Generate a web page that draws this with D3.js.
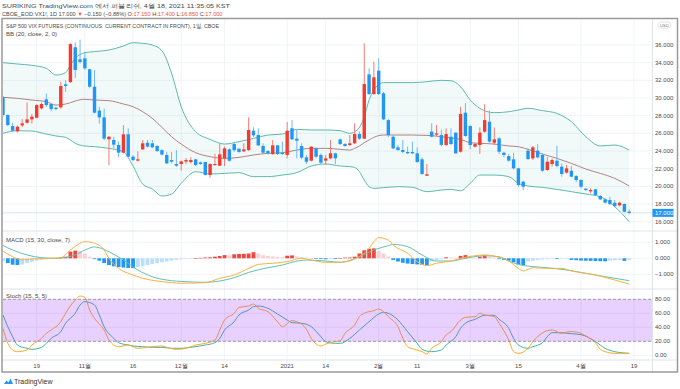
<!DOCTYPE html>
<html>
<head>
<meta charset="utf-8">
<script src="https://cdn.jsdelivr.net/npm/d3@7"></script>
<style>
  body { margin: 0; background: #fff; }
  svg { display: block; font-family: "Liberation Sans", "DejaVu Sans", sans-serif; }
</style>
</head>
<body>
<svg id="chart" width="680" height="389"></svg>
<script>
// ---- data ----
// bars run from index -7 (Oct 8 2020) to 123 (Apr 16 2021), index 0 = Oct 19
const firstBar = -7;
const opens = [30.08,28.08,26.83,26.23,26.90,27.20,27.58, 27.77,28.83,29.85,29.32,28.90,28.94,31.55,31.81,35.74,34.38,34.49,33.25,31.28,28.57,27.81,25.32,25.25,24.68,23.81,25.89,23.36,22.91,24.19,24.94,24.87,24.57,24.10,23.55,22.98,22.53,22.53,22.80,22.75,23.06,22.72,22.75,21.28,22.42,22.34,23.17,
  24.19,24.79,24.26,23.96,24.11,26.30,25.81,24.57,24.00,23.66,24.64,23.81,23.55,26.57,25.40,24.57,23.28,22.91,24.30,23.55,22.91,23.17,23.74,25.32,24.79,24.68,24.87,25.92,25.40,32.68,30.45,33.10,30.53,27.50,25.62,24.42,24.11,23.89,23.89,23.74,23.06,21.20,
  26.19,25.85,25.81,24.68,25.62,26.08,23.92,28.34,26.83,24.49,24.68,26.19,27.32,24.94,25.43,23.81,23.43,23.06,22.04,20.53,24.04,23.17,24.04,23.55,21.85,22.53,22.91,22.23,21.55,21.77,21.17,20.72,19.74,19.43,19.66,18.91,18.53,18.45,18.15,17.85,18.00,17.15];
const highs = [30.20,28.15,27.20,26.90,27.60,29.50,28.20, 29.30,29.50,30.50,29.40,29.00,31.85,32.00,36.20,36.30,36.60,35.25,33.30,33.17,29.00,28.80,25.70,25.62,25.06,26.94,26.57,23.55,23.96,25.25,25.25,25.25,24.70,24.20,23.90,23.90,24.10,22.90,23.20,23.30,23.10,22.80,22.80,22.60,23.70,24.80,24.50,
  24.30,25.06,24.30,24.90,27.81,26.68,26.57,24.87,24.10,25.25,24.70,25.06,27.30,27.50,26.40,24.87,23.55,24.57,24.40,23.74,23.55,25.25,23.81,25.40,24.90,25.81,27.13,26.20,36.19,33.36,34.10,34.49,30.70,27.60,25.81,24.70,25.25,24.49,25.06,24.42,23.28,22.53,
  27.13,26.94,26.40,26.57,26.57,26.10,29.00,29.40,26.94,24.90,26.68,29.30,28.57,26.68,25.55,23.92,23.66,23.81,22.10,20.64,24.30,24.57,24.79,23.74,23.36,23.17,24.60,22.60,22.42,22.30,21.28,20.79,19.77,19.77,19.70,19.02,18.64,18.83,18.45,18.26,18.08,17.40];
const lows = [27.90,26.80,26.20,26.10,26.70,27.10,27.10, 27.70,28.70,29.00,28.50,28.60,28.80,30.70,31.70,32.25,33.90,33.17,31.10,28.26,27.10,25.25,22.40,24.30,23.30,23.74,23.28,22.87,22.80,24.10,24.40,24.30,23.90,23.50,22.53,22.60,22.20,21.80,22.50,22.60,22.30,22.45,21.25,21.00,22.30,22.30,22.30,
  22.80,23.90,23.80,23.90,24.00,25.60,24.57,23.66,23.60,23.55,23.55,23.55,23.17,25.25,23.17,23.06,22.53,22.80,23.17,22.53,22.42,23.06,22.53,24.70,24.50,24.57,24.80,25.25,25.32,30.34,30.34,30.34,27.50,25.60,24.19,24.04,23.74,23.66,23.66,22.68,21.32,21.17,
  25.55,25.70,24.57,24.57,24.68,23.66,23.81,25.62,24.19,24.40,23.66,26.08,24.94,24.68,23.66,23.28,22.79,21.92,19.96,19.58,23.00,22.98,23.17,21.66,21.77,22.23,22.15,21.10,21.45,21.02,20.45,19.77,19.50,19.20,19.00,18.45,18.08,17.89,17.62,17.74,17.06,16.85];
const closes = [28.08,26.94,26.30,26.75,27.13,27.58,27.89, 29.20,29.32,29.20,28.75,28.75,31.36,31.36,36.10,33.17,34.08,33.36,31.28,28.34,27.81,25.40,25.62,24.72,23.81,25.89,23.36,22.98,23.06,24.87,24.49,24.42,24.00,23.60,22.60,22.80,22.34,22.83,22.98,22.98,22.42,22.53,21.28,22.53,22.53,23.62,24.30,
  22.90,24.10,23.89,24.19,26.38,25.77,24.64,23.81,23.74,24.64,23.66,23.66,26.30,25.32,25.17,23.25,22.79,24.49,23.36,22.68,23.17,23.74,23.17,24.79,24.57,24.87,25.92,25.40,31.58,30.45,32.34,30.45,27.58,25.81,24.30,24.11,23.89,23.74,23.74,22.75,21.40,21.36,
  25.62,26.00,24.70,25.92,24.79,23.74,28.19,25.70,24.68,24.79,26.08,27.50,25.06,25.32,23.92,23.55,22.91,22.04,20.15,19.96,23.09,24.42,23.28,21.77,22.79,22.98,22.30,21.40,22.04,21.10,20.72,19.96,19.58,19.58,19.02,18.53,18.15,18.00,17.77,18.15,17.13,17.00];

// Bollinger bands (20, close, 2), read at these bar indexes
const bbIdx   = [-7,-4,-1,2,4,6,7,8,10,12,15,18,20,22,24,26,28,30,33,36,39,42,45,48,51,54,57,60,63,65,66,67,68,69,70,72,75,78,81,84,86,88,90,92,95,98,100,102,105,108,111,114,117,120,123];
const bbUpper = [34.0,33.85,33.7,33.36,32.6,32.87,33.74,34.49,35.13,35.25,35.43,35.89,36.26,36.19,36.0,35.36,32.79,29.02,26.19,25.32,24.79,25.06,25.43,25.81,25.92,26.45,26.38,26.38,26.3,26.0,26.19,26.68,27.89,29.77,30.9,31.74,31.74,31.74,31.85,32.0,31.96,31.28,29.77,28.83,28.34,28.45,28.64,28.83,28.57,28.26,27.32,25.62,24.57,24.68,24.11];
const bbMid   = [30.08,29.96,29.77,29.58,29.2,29.32,29.47,29.66,29.85,29.77,29.7,29.32,29.02,28.45,27.7,26.68,25.62,24.79,23.81,23.36,23.17,23.28,23.55,23.74,23.81,24.11,24.3,24.3,24.19,24.11,24.3,24.57,24.94,25.25,25.55,25.81,25.81,25.81,25.77,25.62,25.47,25.32,24.94,24.87,24.79,24.57,24.49,24.19,23.66,23.17,22.6,21.96,21.47,20.91,20.04];
const bbLower = [26.0,26.3,26.26,25.92,25.7,25.55,25.25,24.87,24.57,24.49,24.3,23.92,22.3,20.26,19.7,18.91,19.13,20.34,21.66,21.4,21.47,21.55,21.1,21.1,21.28,21.55,22.3,22.53,22.3,22.23,22.15,21.66,20.72,19.96,19.77,19.85,19.96,19.89,19.4,19.58,19.66,19.5,20.34,21.28,21.28,21.1,20.34,20.04,19.89,19.66,19.4,19.13,18.83,17.7,16.0];

// MACD (15, 30, close, 7)
const macdIdx  = [-7,-5,-3,-1,3,5,7,9,10,12,14,15,17,20,22,25,28,30,35,38,41,44,46,49,52,55,57,60,63,67,69,70,71,73,74,77,79,81,83,86,88,91,93,96,98,100,101,103,106,109,111,116,120,123];
const macdVals = [0.45,0.1,-0.1,-0.04,0,0.04,0.52,0.94,1.04,0.94,0.52,0,-0.63,-1.04,-1.25,-1.42,-1.52,-1.56,-1.52,-1.25,-1.04,-0.63,-0.38,-0.31,-0.21,0,-0.11,-0.25,-0.25,0.1,0.62,1.04,1.29,1.14,0.83,0.31,-0.21,-0.46,-0.31,-0.17,0,0.16,0.21,0.06,-0.17,-0.63,-0.79,-0.59,-0.63,-0.63,-0.79,-1.04,-1.36,-1.6];
const signalIdx  = [-7,-5,-2,1,4,8,10,12,13,15,18,21,24,27,31,35,38,41,44,48,51,53,56,60,63,67,70,73,74,77,80,83,86,89,93,96,98,100,103,106,110,114,118,123];
const signalVals = [0.8,0.52,0.21,0.04,0,0.21,0.52,0.71,0.66,0.41,-0.11,-0.73,-1.15,-1.36,-1.46,-1.5,-1.42,-1.21,-0.88,-0.59,-0.42,-0.25,-0.11,-0.17,-0.25,0.1,0.52,0.79,0.87,0.73,0.21,-0.17,-0.17,0,0.16,0.1,-0.17,-0.38,-0.52,-0.59,-0.73,-0.94,-1.15,-1.4];
// histogram, one value per bar from index -7
const macdHist = [-0.17,-0.3,-0.4,-0.42,-0.38,-0.3,-0.22,
  -0.15,-0.1,-0.06,-0.03,-0.01,
  0.06,0.1,0.42,0.48,0.45,0.3,0.1,
  -0.05,-0.15,-0.3,-0.42,-0.5,-0.55,-0.58,-0.6,-0.61,
  -0.55,-0.5,-0.42,-0.36,-0.3,-0.25,-0.2,-0.15,-0.1,-0.06,-0.03,-0.01,
  0.01,0.03,0.05,0.06,
  0.1,0.14,0.2,0.18,0.25,0.27,0.28,0.3,0.38,
  0.3,0.2,0.15,0.12,0.08,0.06,
  0.16,0.18,0.12,0.07,0.04,0.02,
  -0.02,-0.05,-0.06,-0.04,-0.05,
  0.02,0.04,0.05,0.1,0.3,0.5,0.6,0.62,0.45,0.3,0.12,
  -0.1,-0.2,-0.28,-0.33,-0.36,-0.38,-0.4,-0.42,
  -0.2,-0.12,-0.06,0.06,0.05,0.04,0.15,0.2,
  0.05,0.03,0.1,0.18,0.1,0.05,
  -0.05,-0.1,-0.15,-0.25,-0.38,-0.42,
  -0.2,-0.15,-0.1,-0.08,-0.06,-0.04,-0.05,-0.03,-0.02,
  -0.1,-0.12,-0.14,-0.15,-0.16,-0.17,-0.18,-0.19,-0.15,-0.12,-0.1,-0.16,-0.1];

// Stoch (15, 5, 5)
const stochKIdx = [-7,-6,-5,-4,-2,-1,1,2,3,5,6,8,9,10,11,12,14,15,17,19,20,21,23,26,27,29,31,33,35,37,38,39,41,42,44,45,46,48,50,51,53,54,56,57,59,60,62,63,64,66,67,68,70,71,72,73,75,76,77,79,80,81,82,84,85,86,88,89,91,92,93,95,96,98,99,100,102,103,104,106,107,109,110,111,113,114,116,117,118,120,121,123];
const stochK    = [38.5,17.1,7.6,5.2,7.6,14.7,24.2,31.4,36.1,48,60,79,84.7,82.8,64.7,52.8,36.1,21.9,12.3,14.7,12.3,10,11.4,13.3,11.4,8.5,10,14.7,17.1,21.9,36.1,50.4,60,68.5,70.4,73.3,67.1,62.3,48,40.9,49.5,48,37.1,24.2,13.3,16.1,19.5,20.5,31.4,43.3,55.2,60,63.8,66.1,62.3,55.2,40.9,24.2,12.3,7.6,5.2,1.9,10,19.5,29,33.8,50.4,54.2,55.2,60,57.6,55.2,45.7,21.9,5.2,2.8,10,19.5,26.6,35.2,36.1,31.4,33.3,33.8,31.4,27.6,18,8.5,5.2,2.8,2.8,2.8];
const stochDIdx = [-7,-6,-5,-4,-2,-1,1,2,3,5,6,8,9,10,12,13,14,16,17,19,20,22,24,26,28,30,32,35,37,38,39,41,42,44,45,46,48,50,52,53,55,57,59,60,62,63,65,67,69,71,72,73,75,77,79,80,82,84,85,87,88,89,91,93,95,96,98,99,100,102,103,105,106,107,109,110,113,116,118,120,123];
const stochD    = [57.6,40.9,26.6,14.7,10,8.5,11.4,17.1,24.2,33.8,45.7,60,71.9,76.6,71.9,57.6,40.9,24.2,18,14.7,13.3,12.3,11.4,11.4,10,10,11.4,14.7,18,24.2,36.1,48,57.6,64.7,69.5,70.4,67.1,59,50.4,46.6,45.7,40.9,26.6,19.5,17.1,17.1,24.2,36.1,48,59,61.4,60,50.4,33.8,17.1,8.5,5.2,7.6,14.7,26.6,38.5,45.7,51.4,57.1,57.1,51.4,38.5,24.2,14.7,10,12.3,18,26.6,32.3,32.3,31.4,29.5,19.5,10,5.2,2.8];

// axes
const priceTicks = [16,18,20,22,24,26,28,30,32,34,36];
const macdTicks = [-1, 0, 1];
const stochTicks = [0, 20, 40, 60, 80];
const tickIdx = [0,10,20,30,39,52,60,71,79,90,100,113,124];
const tickLabels = ["19","11월","16","12월","14","2021","14","2월","11","3월","15","4월","19"];
const lastClose = 17.0;

// ---- layout ----
const svg = d3.select("#chart");
const plotLeft = 3, plotRight = 652.5, frameRight = 677.5;
const mainTop = 18.5, mainBottom = 231, macdBottom = 289, stochBottom = 360, frameBottom = 372;

const x = d3.scaleLinear().domain([0, 124]).range([36.7, 634]);
const yMain = d3.scaleLinear().domain([16, 36]).range([221.7, 45]);
const yMacd = d3.scaleLinear().domain([-1, 1]).range([274.3, 242.3]);
const yStoch = d3.scaleLinear().domain([0, 80]).range([355.3, 299.3]);

const red = "#f23b30", blue = "#2196f3";
const grid = "#f0f3f8";
const textCol = "#4a4a4a";

function addClip(id, y0, y1) {
  svg.append("clipPath").attr("id", id)
    .append("rect").attr("x", plotLeft).attr("y", y0)
    .attr("width", plotRight - plotLeft).attr("height", y1 - y0);
}
addClip("clipMain", mainTop, mainBottom);
addClip("clipMacd", mainBottom, macdBottom);
addClip("clipStoch", macdBottom, stochBottom);

function pairs(idx, vals) {
  return idx.map((d, k) => [d, vals[k]]);
}

function drawGrid() {
  const g = svg.append("g");
  g.selectAll(".vg").data(tickIdx).join("line")
    .attr("x1", d => x(d)).attr("x2", d => x(d))
    .attr("y1", mainTop).attr("y2", stochBottom)
    .attr("stroke", grid).attr("stroke-width", 1);
  g.selectAll(".hp").data(priceTicks).join("line")
    .attr("x1", plotLeft).attr("x2", plotRight)
    .attr("y1", d => yMain(d)).attr("y2", d => yMain(d))
    .attr("stroke", grid);
  g.selectAll(".hm").data(macdTicks).join("line")
    .attr("x1", plotLeft).attr("x2", plotRight)
    .attr("y1", d => yMacd(d)).attr("y2", d => yMacd(d))
    .attr("stroke", grid);
  g.selectAll(".hs").data(stochTicks).join("line")
    .attr("x1", plotLeft).attr("x2", plotRight)
    .attr("y1", d => yStoch(d)).attr("y2", d => yStoch(d))
    .attr("stroke", grid);
}

function drawMainPane() {
  const g = svg.append("g").attr("clip-path", "url(#clipMain)");
  const up = pairs(bbIdx, bbUpper), lo = pairs(bbIdx, bbLower);

  // band fill
  const area = d3.area().curve(d3.curveMonotoneX)
    .x(d => x(d[0])).y0(d => yMain(d[2])).y1(d => yMain(d[1]));
  g.append("path")
    .datum(bbIdx.map((d, k) => [d, bbUpper[k], bbLower[k]]))
    .attr("d", area).attr("fill", "rgba(38,166,154,0.06)");

  const line = d3.line().curve(d3.curveMonotoneX).x(d => x(d[0])).y(d => yMain(d[1]));
  g.append("path").datum(up).attr("d", line).attr("fill", "none").attr("stroke", "#5bb9ab").attr("stroke-width", 1);
  g.append("path").datum(lo).attr("d", line).attr("fill", "none").attr("stroke", "#5bb9ab").attr("stroke-width", 1);
  g.append("path").datum(pairs(bbIdx, bbMid)).attr("d", line).attr("fill", "none").attr("stroke", "#b08282").attr("stroke-width", 1);

  // last price line
  g.append("line").attr("x1", plotLeft).attr("x2", plotRight)
    .attr("y1", yMain(lastClose)).attr("y2", yMain(lastClose))
    .attr("stroke", "#cfe6fb").attr("stroke-width", 1);

  // candles
  const bars = opens.map((o, k) => ({ i: firstBar + k, o: o, h: highs[k], l: lows[k], c: closes[k] }));
  const bw = 3.4;
  g.selectAll(".wick").data(bars).join("line")
    .attr("x1", d => x(d.i)).attr("x2", d => x(d.i))
    .attr("y1", d => yMain(d.h)).attr("y2", d => yMain(d.l))
    .attr("stroke", d => d.c >= d.o ? "#f27b74" : "#6fb7f5").attr("stroke-width", 1);
  g.selectAll(".body").data(bars).join("rect")
    .attr("x", d => x(d.i) - bw / 2).attr("width", bw)
    .attr("y", d => yMain(Math.max(d.o, d.c)))
    .attr("height", d => Math.max(1, Math.abs(yMain(d.o) - yMain(d.c))))
    .attr("fill", d => d.c >= d.o ? red : blue);
}

function drawMacdPane() {
  const g = svg.append("g").attr("clip-path", "url(#clipMacd)");
  const hw = 3.8;
  g.selectAll(".hist").data(macdHist).join("rect")
    .attr("x", (d, k) => x(firstBar + k) - hw / 2).attr("width", hw)
    .attr("y", d => Math.min(yMacd(d), yMacd(0)))
    .attr("height", d => Math.max(0.6, Math.abs(yMacd(d) - yMacd(0))))
    .attr("fill", (d, k) => {
      const prev = k > 0 ? macdHist[k - 1] : d;
      if (d >= 0) return d >= prev ? "#f2453d" : "#ffcdd2";
      return d < prev ? "#2196f3" : "#bbdefb";
    });
  const line = d3.line().curve(d3.curveMonotoneX).x(d => x(d[0])).y(d => yMacd(d[1]));
  g.append("path").datum(pairs(signalIdx, signalVals)).attr("d", line)
    .attr("fill", "none").attr("stroke", "#5ec2b3").attr("stroke-width", 1);
  g.append("path").datum(pairs(macdIdx, macdVals)).attr("d", line)
    .attr("fill", "none").attr("stroke", "#fbb040").attr("stroke-width", 1);
}

function drawStochPane() {
  const g = svg.append("g").attr("clip-path", "url(#clipStoch)");
  const line = d3.line().curve(d3.curveMonotoneX).x(d => x(d[0])).y(d => yStoch(d[1]));
  g.append("path").datum(pairs(stochDIdx, stochD)).attr("d", line)
    .attr("fill", "none").attr("stroke", "#3fb3a3").attr("stroke-width", 1);
  g.append("path").datum(pairs(stochKIdx, stochK)).attr("d", line)
    .attr("fill", "none").attr("stroke", "#ffa726").attr("stroke-width", 1);
  // band 20-80 over the lines
  g.append("rect").attr("x", plotLeft).attr("width", plotRight - plotLeft)
    .attr("y", yStoch(80)).attr("height", yStoch(20) - yStoch(80))
    .attr("fill", "rgba(150,40,255,0.22)");
  g.selectAll(".lvl").data([20, 80]).join("line")
    .attr("x1", plotLeft).attr("x2", plotRight)
    .attr("y1", d => yStoch(d)).attr("y2", d => yStoch(d))
    .attr("stroke", "#8a8a9a").attr("stroke-dasharray", "3,2").attr("stroke-width", 0.8);
}

function drawAxes() {
  const fs = 6;
  // price scale
  svg.selectAll(".pl").data(priceTicks).join("text")
    .attr("x", 655).attr("y", d => yMain(d) + 2).attr("font-size", fs).attr("fill", textCol)
    .text(d => d3.format(".3f")(d));
  svg.append("rect").attr("x", 652.5).attr("y", yMain(lastClose) - 4).attr("width", 21).attr("height", 8)
    .attr("fill", blue);
  svg.append("text").attr("x", 655).attr("y", yMain(lastClose) + 2).attr("font-size", fs).attr("fill", "#fff")
    .text(d3.format(".3f")(lastClose));
  svg.selectAll(".ml").data(macdTicks).join("text")
    .attr("x", 655).attr("y", d => yMacd(d) + 2).attr("font-size", fs).attr("fill", textCol)
    .text(d => d3.format(".3f")(d).replace("-", "\u2212"));
  svg.selectAll(".sl").data(stochTicks).join("text")
    .attr("x", 655).attr("y", d => yStoch(d) + 2).attr("font-size", fs).attr("fill", textCol)
    .text(d => d3.format(".2f")(d));
  // time axis
  svg.selectAll(".tl").data(tickIdx).join("text")
    .attr("x", d => x(d)).attr("y", 368).attr("text-anchor", "middle")
    .attr("font-size", fs).attr("fill", textCol)
    .text((d, k) => tickLabels[k]);
}

function drawFrame() {
  const sep = "#e0e3eb";
  [mainBottom, macdBottom, stochBottom].forEach(y => {
    svg.append("line").attr("x1", plotLeft).attr("x2", frameRight).attr("y1", y).attr("y2", y)
      .attr("stroke", sep).attr("stroke-width", 1);
  });
  svg.append("line").attr("x1", plotRight).attr("x2", plotRight).attr("y1", mainTop).attr("y2", frameBottom)
    .attr("stroke", sep).attr("stroke-width", 1);
  svg.append("rect").attr("x", 2).attr("y", mainTop).attr("width", frameRight - 2).attr("height", frameBottom - mainTop)
    .attr("fill", "none").attr("stroke", "#9a9a9a").attr("stroke-width", 1.5);
}

function drawTexts() {
  const fs = 6;
  svg.append("text").attr("x", 2).attr("y", 8).attr("font-size", fs).attr("fill", textCol)
    .attr("textLength", 228).attr("lengthAdjust", "spacingAndGlyphs")
    .text("SURIKING TradingView.com 에서 퍼블리쉬, 4월 18, 2021 11:35:05 KST");

  // symbol line, tspans flow one after the other
  const hdRed = "#ef5350";
  const parts = [
    ["CBOE_EOD:VX1!, 1D 17.000 ", textCol], ["▼", hdRed], [" \u22120.150 (\u22120.88%) O:", textCol],
    ["17.150", hdRed], [" H:", textCol], ["17.400", hdRed], [" L:", textCol],
    ["16.850", hdRed], [" C:", textCol], ["17.000", hdRed]
  ];
  const t2 = svg.append("text").attr("x", 2).attr("y", 16).attr("font-size", 5.6)
    .style("white-space", "pre");
  parts.forEach(p => t2.append("tspan").attr("fill", p[1]).text(p[0]));

  svg.append("text").attr("x", 6).attr("y", 28).attr("font-size", fs).attr("fill", textCol)
    .attr("textLength", 213).attr("lengthAdjust", "spacingAndGlyphs")
    .text("S&P 500 VIX FUTURES (CONTINUOUS: CURRENT CONTRACT IN FRONT), 1일, CBOE");
  svg.append("text").attr("x", 6).attr("y", 36).attr("font-size", fs).attr("fill", textCol)
    .text("BB (20, close, 2, 0)");
  svg.append("text").attr("x", 6).attr("y", 242).attr("font-size", fs).attr("fill", textCol)
    .text("MACD (15, 30, close, 7)");
  svg.append("text").attr("x", 6).attr("y", 298).attr("font-size", fs).attr("fill", textCol)
    .text("Stoch (15, 5, 5)");

  // USD badge
  svg.append("rect").attr("x", 658).attr("y", 22).attr("width", 13).attr("height", 6).attr("rx", 3)
    .attr("fill", "#fff").attr("stroke", "#d0d0d0").attr("stroke-width", 0.6);
  svg.append("text").attr("x", 664.5).attr("y", 26.6).attr("text-anchor", "middle")
    .attr("font-size", 4.2).attr("fill", "#777").text("USD");

  // TradingView logo
  svg.append("path").attr("d", "M4,384 L6.5,380.5 L8.5,382.5 L10.5,378.5 L13,384 Z").attr("fill", "#2196f3");
  svg.append("text").attr("x", 14).attr("y", 384).attr("font-size", 7).attr("fill", "#333")
    .text("TradingView");
}

drawGrid();
drawMainPane();
drawMacdPane();
drawStochPane();
drawFrame();
drawAxes();
drawTexts();
</script>
</body>
</html>
